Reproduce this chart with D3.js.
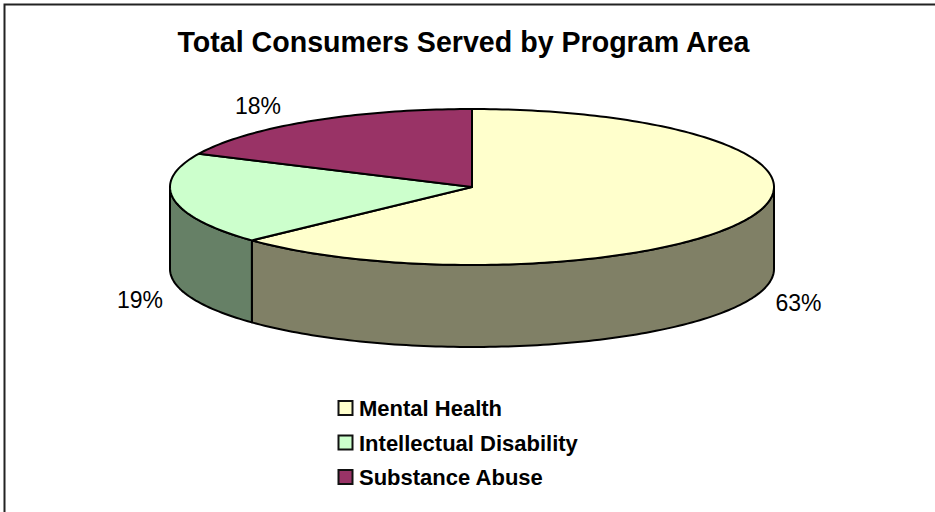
<!DOCTYPE html>
<html>
<head>
<meta charset="utf-8">
<script src="https://cdn.jsdelivr.net/npm/d3@7/dist/d3.min.js"></script>
<style>
html, body { margin: 0; padding: 0; background: #fff; }
svg { display: block; font-family: "Liberation Sans", Arial, sans-serif; }
</style>
</head>
<body>
<svg id="chart" width="935" height="512"></svg>
<script>
// Program areas and their share of consumers served, in percent
const categories = ["Mental Health", "Intellectual Disability", "Substance Abuse"];
const shares = [63, 19, 18];
const colors = ["#FFFFCC", "#CCFFCC", "#993366"];
const chartTitle = "Total Consumers Served by Program Area";

const svg = d3.select("#chart");

// Pie disc geometry: an ellipse standing in for a tilted circle
const cx = 472, cy = 187, rx = 302, ry = 78, depth = 82;
const lineW = 2;

// Outer frame: only the top and left edges fall inside the page
svg.append("path")
  .attr("d", d3.line()([[4.5, 512], [4.5, 4.5], [935, 4.5]]))
  .attr("fill", "none").attr("stroke", "#222").attr("stroke-width", 2);

svg.append("text")
  .attr("x", 463.5).attr("y", 52)
  .attr("text-anchor", "middle")
  .attr("font-size", 28.6).attr("font-weight", "bold")
  .text(chartTitle);

const slices = d3.pie().sort(null).value(d => d)(shares);

// Angle is measured clockwise from the top of the disc
const px = a => cx + rx * Math.sin(a);
const py = (a, drop = 0) => cy - ry * Math.cos(a) + drop;

// Samples an arc of the rim, evenly spaced over its angle range
function rim(a0, a1, drop = 0) {
  const n = Math.max(2, Math.ceil(Math.abs(a1 - a0) / 0.02));
  return d3.range(n + 1).map(i => {
    const a = a0 + (a1 - a0) * i / n;
    return [px(a), py(a, drop)];
  });
}
const line = d3.line();

// Side walls: only the part of each slice facing the viewer is drawn
const frontStart = Math.PI / 2, frontEnd = Math.PI * 1.5;
slices.forEach((s, i) => {
  const a0 = Math.max(s.startAngle, frontStart);
  const a1 = Math.min(s.endAngle, frontEnd);
  if (a1 <= a0) return;
  const base = d3.rgb(colors[i]);
  const wall = d3.rgb(base.r / 2, base.g / 2, base.b / 2);
  const pts = rim(a0, a1).concat(rim(a1, a0, depth));
  svg.append("path")
    .attr("d", line(pts) + "Z")
    .attr("fill", wall.formatHex())
    .attr("stroke", "#000").attr("stroke-width", lineW)
    .attr("stroke-linejoin", "round");
});

// Top faces of the slices
slices.forEach((s, i) => {
  const pts = [[cx, cy]].concat(rim(s.startAngle, s.endAngle));
  svg.append("path")
    .attr("d", line(pts) + "Z")
    .attr("fill", colors[i])
    .attr("stroke", "#000").attr("stroke-width", lineW)
    .attr("stroke-linejoin", "round");
});

// Percentage labels sit beside their slices
const labelAnchors = [[798.5, 311], [140, 308], [258, 114]];
shares.forEach((v, i) => {
  svg.append("text")
    .attr("x", labelAnchors[i][0]).attr("y", labelAnchors[i][1])
    .attr("text-anchor", "middle")
    .attr("font-size", 23).attr("fill", "#000")
    .text(v + "%");
});

// Legend
const legendY = d3.scalePoint().domain(categories).range([408, 477]);
categories.forEach((c, i) => {
  const y = legendY(c);
  svg.append("rect")
    .attr("x", 338.5).attr("y", y - 7)
    .attr("width", 14).attr("height", 14)
    .attr("fill", colors[i])
    .attr("stroke", "#111").attr("stroke-width", 2);
  svg.append("text")
    .attr("x", 359).attr("y", y + 8)
    .attr("font-size", 22).attr("font-weight", "bold")
    .text(c);
});
</script>
</body>
</html>
